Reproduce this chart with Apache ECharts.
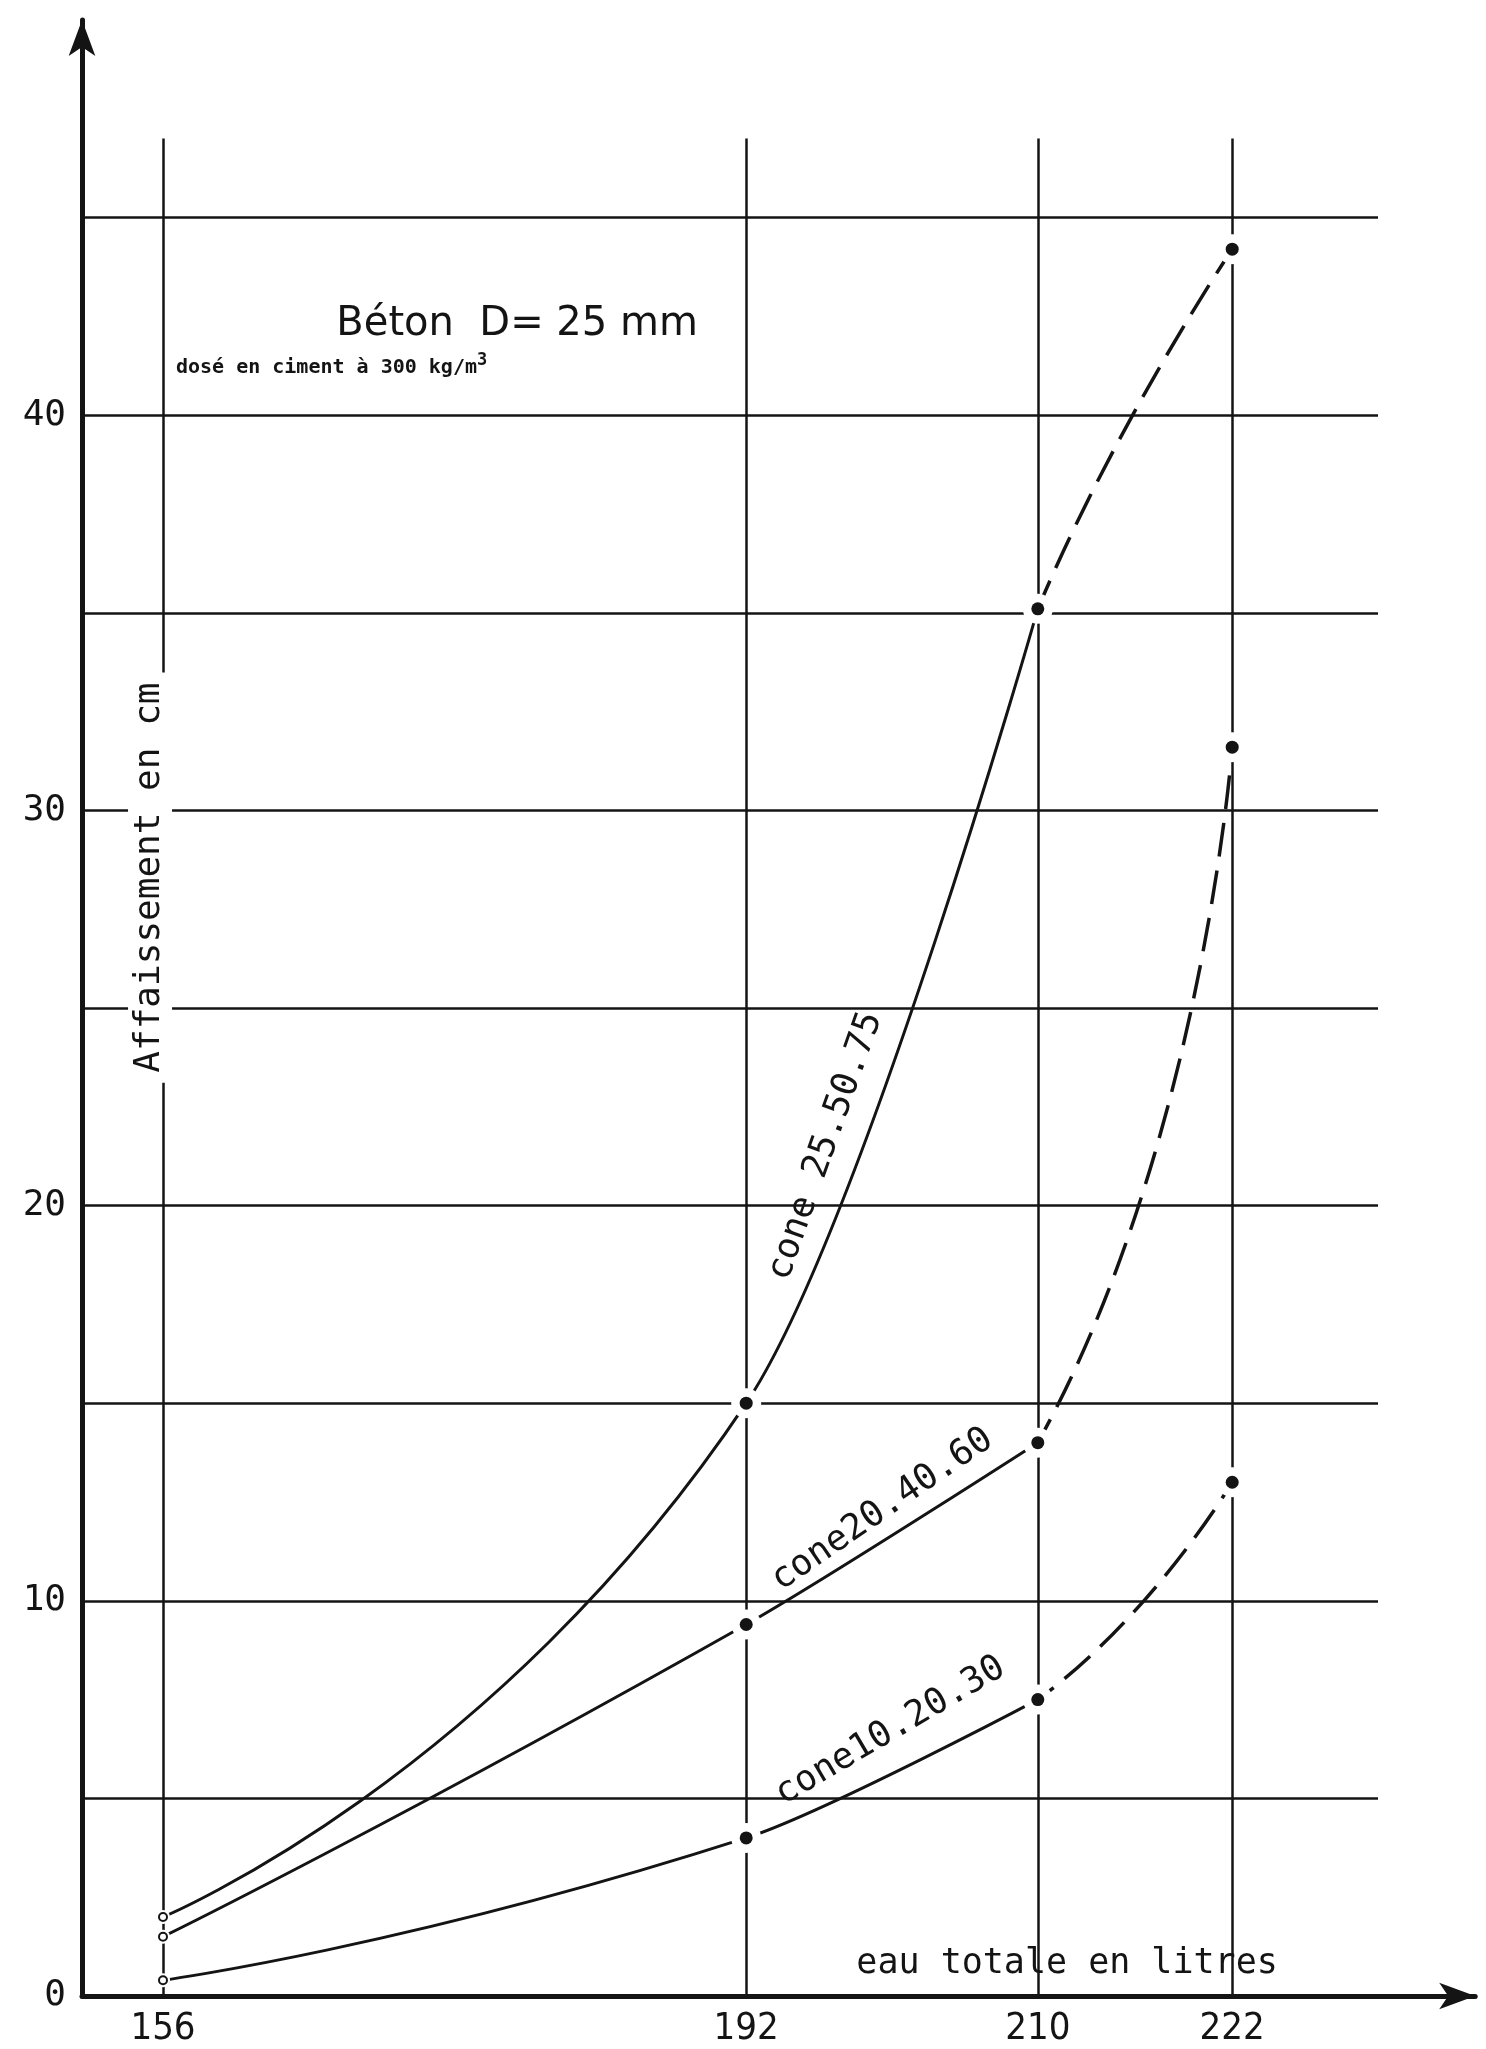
<!DOCTYPE html>
<html>
<head>
<meta charset="utf-8">
<script src="https://cdn.jsdelivr.net/npm/echarts@6/dist/echarts.min.js"></script>
<style>
html,body{margin:0;padding:0;background:#fff;}
#c{width:1486px;height:2049px;}
</style>
</head>
<body>
<div id="c"></div>
<script>
// ---------------- data ----------------
const xValues      = [156, 192, 210, 222];          // eau totale (litres)
const xTickLabels  = [156, 192, 210, 222];
const yTickLabels  = [0, 10, 20, 30, 40];
const cone255075   = [2.0, 15.0, 35.1, 44.2];        // affaissement (cm)
const cone204060   = [1.5, 9.4, 14.0, 31.6];
const cone102030   = [0.4, 4.0, 7.5, 13.0];
const coneNames    = ['cone 25.50.75', 'cone20.40.60', 'cone10.20.30'];
const solidUpTo    = 210;                            // measured part drawn solid, beyond it dashed
const yGridValues  = [5, 10, 15, 20, 25, 30, 35, 40, 45];

// ---------------- layout ----------------
const X0 = 151, X1 = 237, XG = 231;   // axis extent, grid-line extent
const Y0 = 0, Y1 = 50, YG = 47;
const PX = 16.2, PY = 39.52;
const LEFT = 82, BASE = 1996;
const INK = '#141414';
const F_MONO = "'DejaVu Sans Mono','Liberation Mono',monospace";
const F_SANS = "'DejaVu Sans','Liberation Sans',sans-serif";
const F_COND = "'DejaVu Sans Condensed','DejaVu Sans',sans-serif";

const cones = [cone255075, cone204060, cone102030];
const pairs = ys => xValues.map((x, i) => [x, ys[i]]);

// curve pieces: each piece is drawn in its own clipping grid (same scale as the main grid)
const pieces = [
  {from: X0,          to: xValues[1], smooth: 0.6,  dashed: false},
  {from: xValues[1],  to: solidUpTo,  smooth: 0.25, dashed: false},
  {from: solidUpTo,   to: X1,         smooth: 0.5,  dashed: true}
];
const gridBox = (a, b, ymax) => ({left: LEFT + (a - X0) * PX, top: BASE - (ymax - Y0) * PY,
  width: (b - a) * PX, height: (ymax - Y0) * PY});

const grids = [gridBox(X0, X1, Y1), gridBox(X0, XG, YG)].concat(pieces.map(pc => gridBox(pc.from, pc.to, Y1)));

const xAxes = [
  {gridIndex: 0, type: 'value', min: X0, max: X1,
    axisLine: {show: true, symbol: ['none', 'arrow'], symbolSize: [20, 36], lineStyle: {color: INK, width: 5}},
    axisTick: {show: false}, splitLine: {show: false},
    axisLabel: {customValues: xTickLabels, fontSize: 38, fontFamily: F_COND, color: INK, margin: 14}},
  {gridIndex: 1, type: 'value', min: X0, max: XG,
    axisLine: {show: false}, axisLabel: {show: false},
    axisTick: {show: false, customValues: xValues},
    splitLine: {show: true, lineStyle: {color: INK, width: 2.5}}}
].concat(pieces.map((pc, i) => ({gridIndex: 2 + i, type: 'value', min: pc.from, max: pc.to, show: false})));

const yAxes = [
  {gridIndex: 0, type: 'value', min: Y0, max: Y1, interval: 10,
    axisLine: {show: true, onZero: false, symbol: ['none', 'arrow'], symbolSize: [20, 36], lineStyle: {color: INK, width: 5}},
    axisTick: {show: false}, splitLine: {show: false},
    axisLabel: {customValues: yTickLabels, fontSize: 36, fontFamily: F_MONO, color: INK, margin: 16}},
  {gridIndex: 1, type: 'value', min: Y0, max: YG,
    axisLine: {show: false}, axisLabel: {show: false},
    axisTick: {show: false, customValues: yGridValues},
    splitLine: {show: true, lineStyle: {color: INK, width: 2.5}}}
].concat(pieces.map((pc, i) => ({gridIndex: 2 + i, type: 'value', min: Y0, max: Y1, show: false})));

const series = [];
cones.forEach((ys, k) => {
  pieces.forEach((pc, i) => {
    const pts = pc.dashed ? pairs(ys) : pairs(ys).filter(p => p[0] <= solidUpTo);
    series.push({name: coneNames[k], type: 'line', xAxisIndex: 2 + i, yAxisIndex: 2 + i,
      data: pts, smooth: pc.smooth, showSymbol: false, clip: true, silent: true, z: 2,
      lineStyle: pc.dashed ? {color: INK, width: 3.5, type: [34, 14]} : {color: INK, width: 3}});
  });
});
const allPts = [];
cones.forEach(ys => pairs(ys).forEach((p, i) => allPts.push({p, first: i === 0})));
series.push({type: 'scatter', xAxisIndex: 0, yAxisIndex: 0, z: 3, silent: true,
  data: allPts.map(o => ({value: o.p, symbol: 'circle', symbolSize: o.first ? 14 : 30})),
  itemStyle: {color: '#fff', opacity: 1}});
series.push({type: 'scatter', xAxisIndex: 0, yAxisIndex: 0, z: 4, silent: true,
  itemStyle: {opacity: 1},
  data: allPts.map(o => o.first
    ? {value: o.p, symbol: 'emptyCircle', symbolSize: 8, itemStyle: {color: INK, borderColor: INK, borderWidth: 2.5, opacity: 1}}
    : {value: o.p, symbol: 'circle', symbolSize: 13, itemStyle: {color: INK, opacity: 1}})});

const chart = echarts.init(document.getElementById('c'), null, {renderer: 'canvas'});
chart.setOption({
  animation: false,
  backgroundColor: '#fff',
  grid: grids, xAxis: xAxes, yAxis: yAxes, series: series
});

// ---------------- annotations, anchored in data coordinates ----------------
const toPx = (x, y) => chart.convertToPixel({gridIndex: 0}, [x, y]);
const deg = d => d * Math.PI / 180;
const notes = [
  {at: [196.9, 21.5], rot: 70.5, text: coneNames[0]},
  {at: [200.4, 12.3], rot: 34.5, text: coneNames[1]},
  {at: [200.9, 6.7],  rot: 30.5, text: coneNames[2]}
];
const g = [];
notes.forEach(n => {
  const p = toPx(n.at[0], n.at[1]);
  g.push({type: 'text', x: p[0], y: p[1], rotation: deg(n.rot), z: 50,
    style: {text: n.text, fontSize: 36, fontFamily: F_MONO, fill: INK, align: 'center', verticalAlign: 'middle'}});
});
let p = toPx(166.7, 42.3);
g.push({type: 'text', x: p[0], y: p[1], z: 50,
  style: {text: 'Béton  D= 25 mm', fontSize: 40, fontFamily: F_SANS, fill: INK, align: 'left', verticalAlign: 'middle'}});
p = toPx(156.8, 41.2);
g.push({type: 'text', x: p[0], y: p[1], z: 50,
  style: {text: 'dosé en ciment à 300 kg/m{sup|3}', fontSize: 20, fontWeight: 'bold', fontFamily: F_MONO, fill: INK, align: 'left', verticalAlign: 'middle',
    rich: {sup: {fontSize: 17, fontWeight: 'bold', fontFamily: F_MONO, fill: INK, verticalAlign: 'top', padding: [0, 0, 14, 0]}}}});
p = toPx(198.8, 0.81);
g.push({type: 'text', x: p[0], y: p[1], z: 50,
  style: {text: 'eau totale en litres', fontSize: 35, fontFamily: F_MONO, fill: INK, align: 'left', verticalAlign: 'middle'}});
p = toPx(155.2, 28.3);
g.push({type: 'text', x: p[0], y: p[1], rotation: deg(90), z: 50,
  style: {text: 'Affaissement en cm', fontSize: 36, fontFamily: F_MONO, fill: INK, align: 'center', verticalAlign: 'middle',
    backgroundColor: '#fff', padding: [4, 10]}});
chart.setOption({graphic: g});
</script>
</body>
</html>
